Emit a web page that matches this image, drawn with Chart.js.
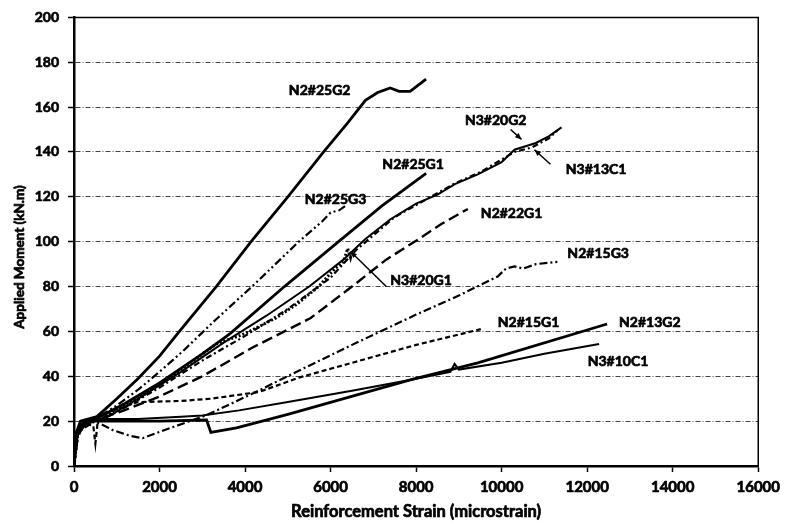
<!DOCTYPE html>
<html>
<head>
<meta charset="utf-8">
<script src="https://cdn.jsdelivr.net/npm/chart.js@4.4.0/dist/chart.umd.min.js"></script>
<style>
  html, body { margin: 0; padding: 0; background: #fff; }
</style>
</head>
<body>
<canvas id="grafico" width="786" height="525"></canvas>
<script>
// eixos
const xTicks = [0, 2000, 4000, 6000, 8000, 10000, 12000, 14000, 16000];
const yTicks = [0, 20, 40, 60, 80, 100, 120, 140, 160, 180, 200];

// curvas: [deformação, momento]
const N2_25G2 = [[0,0],[40,14],[150,20],[535,22],[1000,30],[1500,39],[2000,49],[2465,60],[3326,80],[4140,100],[5000,120],[5837,140],[6400,153],[6814,163],[7100,166.5],[7395,168.5],[7600,167],[7860,167],[8233,172.5]];
const N2_25G1 = [[0,0],[50,15],[200,19],[600,22],[1200,28],[2000,37],[3000,50],[3650,59],[4920,80],[6186,100],[7200,116],[8233,130.5]];
const N2_25G3 = [[0,0],[60,13],[200,18],[500,21],[1000,27],[1500,34],[2000,42],[2535,51],[3300,65],[4163,80],[5256,100],[5800,109],[6000,113],[6200,114],[6349,116]];
const N3_20G2 = [[0,0],[80,14],[300,19],[800,22],[1500,30],[2500,42],[3500,55],[4500,67],[5500,80],[6300,92],[6800,101],[7400,110],[8000,117],[8500,121],[8907,125.7],[9442,130],[10000,135.5],[10300,141],[10800,144],[11100,147],[11400,151]];
const N3_13C1 = [[0,0],[100,15],[400,19],[1000,24],[2000,35],[3000,47],[4000,58],[5000,70],[6000,84],[6581,96],[7500,111],[8907,126],[9500,131],[10300,140],[10700,142],[11100,146],[11300,149.5]];
const N2_22G1 = [[0,0],[80,12],[200,18],[600,21],[1200,25],[2000,31],[3000,40],[4163,52.7],[5535,66],[6500,80],[7300,92],[8047,101],[8600,108],[9209,114.6]];
const N3_20G1 = [[0,0],[100,16],[300,20],[700,22],[1500,30],[2500,43],[3326,54.4],[4000,59],[4721,66],[5200,72],[5721,80],[6100,88],[6300,91],[6400,97],[6465,93],[6500,96]];
const N2_15G3 = [[0,0],[50,12],[150,18],[400,20],[600,19],[907,16],[1300,13.5],[1605,12.4],[2233,16.8],[3093,22.6],[4200,32.5],[5256,42.5],[6500,54],[8000,67.5],[9000,76],[9907,84.5],[10100,88],[10300,89],[10500,88],[10800,90],[11302,91]];
const N2_15G1 = [[0,0],[60,14],[200,19],[450,18],[500,10],[550,19],[800,24],[1500,28.5],[2500,29],[3200,30],[4326,33],[5256,39.4],[6500,46],[8000,54],[9512,61]];
const N2_13G2 = [[0,0],[60,14],[150,18],[300,20],[1000,20],[2000,20],[3100,20.5],[3200,15],[3800,17],[5000,23],[7884,38.5],[9442,46],[12465,63.3]];
const N3_10C1 = [[0,0],[50,14],[200,19],[600,21],[1500,21],[2500,22],[3000,22.5],[3860,24.8],[5000,28.5],[6500,33.5],[7884,38.5],[8800,42],[8900,45.5],[9000,43],[10000,46],[11000,50],[12279,54.4]];

// rótulos das curvas (posição em unidades dos eixos)
const rotulos = ['N2#25G2','N2#25G1','N2#25G3','N3#20G2','N3#13C1','N2#22G1','N3#20G1','N2#15G3','N2#15G1','N2#13G2','N3#10C1'];
const rotuloX = [5744, 7930, 6116, 9860, 12209, 10233, 8116, 12256, 10628, 13465, 12721];
const rotuloY = [167.3, 134.5, 119, 154, 132, 112.4, 82.7, 94.7, 64.2, 64.2, 46.5];

// setas
const setaDe = [[10209,150],[11140,134.5],[7302,80]];
const setaPara = [[10465,145.6],[10767,141],[6465,95.6]];

const FONTE = 'Lato, "Open Sans", sans-serif';

function serie(pts, largura, traco) {
  return {
    data: pts.map(p => ({ x: p[0], y: p[1] })),
    showLine: true,
    borderColor: '#000',
    borderWidth: largura,
    borderDash: traco,
    pointRadius: 0,
    tension: 0,
    fill: false
  };
}

function texto(ctx, t, px, py) {
  ctx.fillText(t, px, py);
  ctx.strokeText(t, px, py);
}

const extras = {
  id: 'extras',
  afterDatasetsDraw(chart) {
    const { ctx, chartArea: a, scales: { x, y } } = chart;
    ctx.save();
    // moldura
    ctx.strokeStyle = '#000';
    ctx.lineWidth = 1.5;
    ctx.beginPath();
    ctx.moveTo(a.left, a.top);
    ctx.lineTo(a.right, a.top);
    ctx.lineTo(a.right, a.bottom);
    ctx.stroke();

    // setas
    ctx.lineWidth = 1.5;
    ctx.fillStyle = '#000';
    setaDe.forEach((d, i) => {
      const x1 = x.getPixelForValue(d[0]), y1 = y.getPixelForValue(d[1]);
      const x2 = x.getPixelForValue(setaPara[i][0]), y2 = y.getPixelForValue(setaPara[i][1]);
      ctx.beginPath();
      ctx.moveTo(x1, y1);
      ctx.lineTo(x2, y2);
      ctx.stroke();
      const ang = Math.atan2(y2 - y1, x2 - x1);
      ctx.beginPath();
      ctx.moveTo(x2, y2);
      ctx.lineTo(x2 - 7 * Math.cos(ang - 0.4), y2 - 7 * Math.sin(ang - 0.4));
      ctx.lineTo(x2 - 7 * Math.cos(ang + 0.4), y2 - 7 * Math.sin(ang + 0.4));
      ctx.closePath();
      ctx.fill();
    });

    // rótulos
    ctx.lineWidth = 0.7;
    ctx.font = 'bold 14px ' + FONTE;
    ctx.textAlign = 'center';
    ctx.textBaseline = 'middle';
    rotulos.forEach((t, i) => {
      texto(ctx, t, x.getPixelForValue(rotuloX[i]), y.getPixelForValue(rotuloY[i]));
    });

    // títulos dos eixos
    ctx.font = 'bold 16.5px ' + FONTE;
    texto(ctx, 'Reinforcement Strain (microstrain)', (a.left + a.right) / 2, 512);
    ctx.font = 'bold 13.5px ' + FONTE;
    ctx.translate(20, 257);
    ctx.rotate(-Math.PI / 2);
    texto(ctx, 'Applied Moment (kN.m)', 0, 0);
    ctx.restore();
  }
};

new Chart(document.getElementById('grafico'), {
  type: 'scatter',
  data: {
    datasets: [
      serie(N2_25G2, 2.8, []),
      serie(N2_25G1, 2.8, []),
      serie(N2_25G3, 2.2, [8, 3, 2, 3, 2, 3]),
      serie(N3_20G2, 2, []),
      serie(N3_13C1, 2.2, [6, 3, 2, 3]),
      serie(N2_22G1, 2.4, [11, 5]),
      serie(N3_20G1, 3, [2, 2]),
      serie(N2_15G3, 2.2, [8, 3, 2, 3]),
      serie(N2_15G1, 2.2, [5, 3]),
      serie(N2_13G2, 2.8, []),
      serie(N3_10C1, 2, [])
    ]
  },
  options: {
    responsive: false,
    animation: false,
    layout: { padding: { top: 14, right: 24, left: 0, bottom: 0 } },
    plugins: { legend: { display: false }, tooltip: { enabled: false } },
    scales: {
      x: {
        type: 'linear',
        min: 0, max: 16000,
        afterFit: s => { s.height = 59; },
        afterBuildTicks: s => { s.ticks = xTicks.map(v => ({ value: v })); },
        ticks: { color: '#000', padding: 6, callback: v => String(v), textStrokeColor: '#000', textStrokeWidth: 0.7,
                 font: { family: FONTE, size: 15, weight: 'bold' } },
        grid: { drawOnChartArea: false, drawTicks: true, tickLength: 6, tickColor: '#000', tickWidth: 1.5 },
        border: { display: true, color: '#000', width: 2.5 }
      },
      y: {
        min: 0, max: 200,
        afterFit: s => { s.width = 74; },
        afterBuildTicks: s => { s.ticks = yTicks.map(v => ({ value: v })); },
        ticks: { color: '#000', padding: 9, callback: v => String(v), textStrokeColor: '#000', textStrokeWidth: 0.7,
                 font: { family: FONTE, size: 14, weight: 'bold' } },
        grid: { color: '#444', lineWidth: 1, tickLength: 6, tickColor: '#000', tickWidth: 1.5 },
        border: { display: true, color: '#000', width: 2.5, dash: [5, 2, 1, 2] }
      }
    }
  },
  plugins: [extras]
});
</script>
</body>
</html>
